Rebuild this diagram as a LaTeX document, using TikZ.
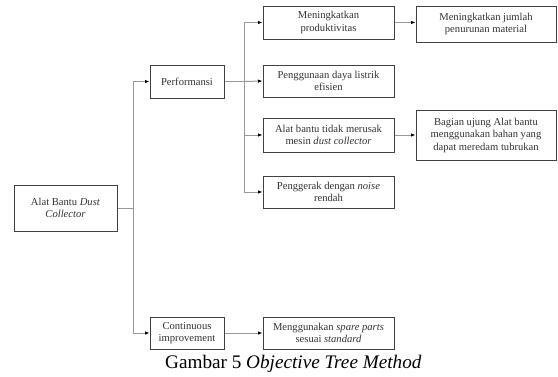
\documentclass[tikz,border=0pt]{standalone}
\usepackage{fontspec}
\setmainfont{Liberation Serif}
\usetikzlibrary{arrows.meta,calc}
\begin{document}
\begin{tikzpicture}[x=1pt,y=-1pt,
  box/.style={draw=black!75,line width=1pt,fill=white,align=center,inner sep=1pt,
    font=\fontsize{10.6}{12.5}\selectfont,text=black!80},
  conn/.style={draw=black!40,line width=1pt,-{Latex[length=4.5pt,width=3.5pt,fill=black,color=black]}},
  plain/.style={draw=black!40,line width=1pt}]
\useasboundingbox (0,0) rectangle (558,376);
% nodes
\node[box,minimum width=103pt,minimum height=46pt] (root) at (65.5,208) {Alat Bantu \textit{Dust}\\\textit{Collector}};
\node[box,minimum width=74pt,minimum height=33pt] (perf) at (187,81.5) {Performansi};
\node[box,minimum width=74pt,minimum height=32pt] (cont) at (187,333) {Continuous\\improvement};
\node[box,minimum width=131pt,minimum height=33pt] (a1) at (328.5,22.5) {Meningkatkan\\produktivitas};
\node[box,minimum width=131pt,minimum height=32pt] (a2) at (328.5,81) {Penggunaan daya listrik\\efisien};
\node[box,minimum width=131pt,minimum height=34pt] (a3) at (328.5,135) {Alat bantu tidak merusak\\mesin \textit{dust collector}};
\node[box,minimum width=131pt,minimum height=32pt] (a4) at (328.5,192) {Penggerak dengan \textit{noise}\\rendah};
\node[box,minimum width=131pt,minimum height=32pt] (b1) at (328.5,333) {Menggunakan \textit{spare parts}\\sesuai \textit{standard}};
\node[box,minimum width=140pt,minimum height=36pt] (c1) at (486,24) {Meningkatkan jumlah\\penurunan material};
\node[box,minimum width=140pt,minimum height=50pt] (c3) at (486,135) {Bagian ujung Alat bantu\\menggunakan bahan yang\\dapat meredam tubrukan};
% trunks
\coordinate (t1) at (133,0);
\coordinate (t2) at (244,0);
\draw[plain] (root.east) -- (root.east -| t1);
\draw[conn] (root.east -| t1) |- (perf.west);
\draw[conn] (root.east -| t1) |- (cont.west);
\draw[plain] (perf.east) -- (perf.east -| t2);
\draw[conn] (perf.east -| t2) |- (a1.west);
\draw[conn] (perf.east -| t2) -- (a2.west);
\draw[conn] (perf.east -| t2) |- (a3.west);
\draw[conn] (perf.east -| t2) |- (a4.west);
\draw[conn] (a1.east) -- (a1.east -| c1.west);
\draw[conn] (a3.east) -- (c3.west);
\draw[conn] (cont.east) -- (b1.west);
% caption
\node[anchor=base west,inner sep=0pt,font=\fontsize{19.2}{21}\selectfont] (cap) at (165,368) {Gambar 5 \textit{Objective Tree Method}};
\end{tikzpicture}
\end{document}
